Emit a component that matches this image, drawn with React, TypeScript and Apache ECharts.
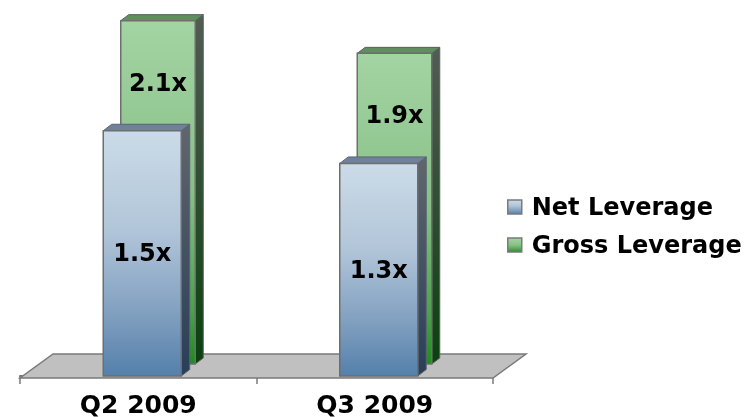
import React, { useEffect, useRef } from "react";
import * as echarts from "echarts";

const categories = ["Q2 2009", "Q3 2009"];
const netLeverage = [1.5, 1.3];
const grossLeverage = [2.1, 1.9];
const seriesNames = ["Net Leverage", "Gross Leverage"];

const FONT = '"DejaVu Sans", Verdana, sans-serif';

const grad = (stops: [number, string][]) =>
  new echarts.graphic.LinearGradient(
    0,
    0,
    0,
    1,
    stops.map(([offset, color]) => ({ offset, color }))
  );

type BarStyle = {
  shiftX: number;
  shiftY: number;
  left: number;
  width: number;
  depthX: number;
  depthY: number;
  front: () => any;
  side: () => any;
  top: string;
  stroke: string;
  labelAtTop: boolean;
};

const makeRender = (s: BarStyle) => (params: any, api: any) => {
  const cat = api.value(0);
  const val = api.value(1);
  const [cx, yTop0] = api.coord([cat, val]);
  const [, yBase0] = api.coord([cat, 0]);
  const x0 = cx + s.left + s.shiftX;
  const x1 = x0 + s.width;
  const yTop = yTop0 + s.shiftY;
  const yBase = yBase0 + s.shiftY;
  const dx = s.depthX;
  const dy = s.depthY;
  const labelY = s.labelAtTop ? yTop + 62 : (yTop + yBase) / 2;
  return {
    type: "group",
    children: [
      {
        type: "polygon",
        shape: {
          points: [
            [x1, yTop],
            [x1 + dx, yTop + dy],
            [x1 + dx, yBase + dy],
            [x1, yBase],
          ],
        },
        style: { fill: s.side(), stroke: s.stroke, lineWidth: 1 },
      },
      {
        type: "polygon",
        shape: {
          points: [
            [x0, yTop],
            [x0 + dx, yTop + dy],
            [x1 + dx, yTop + dy],
            [x1, yTop],
          ],
        },
        style: { fill: s.top, stroke: s.stroke, lineWidth: 1 },
      },
      {
        type: "rect",
        shape: { x: x0, y: yTop, width: s.width, height: yBase - yTop },
        style: { fill: s.front(), stroke: "#6e6e6e", lineWidth: 1.5 },
      },
      {
        type: "text",
        x: x0 + s.width / 2,
        y: labelY,
        style: {
          text: val.toFixed(1) + "x",
          fill: "#000",
          fontSize: 24,
          fontWeight: "bold",
          fontFamily: FONT,
          align: "center",
          verticalAlign: "middle",
        },
      },
    ],
  };
};

const netFront = () =>
  grad([
    [0, "#cbdbe8"],
    [0.4, "#b2c6d9"],
    [0.75, "#809fbf"],
    [1, "#5480ab"],
  ]);
const netSide = () =>
  grad([
    [0, "#60666d"],
    [1, "#2a3e58"],
  ]);
const grossFront = () =>
  grad([
    [0, "#a3d4a3"],
    [0.5, "#88c088"],
    [0.85, "#4c9e4c"],
    [1, "#1c8c1c"],
  ]);
const grossSide = () =>
  grad([
    [0, "#525c54"],
    [1, "#0b400f"],
  ]);

export default function App() {
  const ref = useRef<HTMLDivElement>(null);
  useEffect(() => {
    if (!ref.current) return;
    const chart = echarts.init(ref.current, undefined, { renderer: "svg" });
    chart.setOption({
      animation: false,
      grid: { left: 20, right: 256, top: 16.3, bottom: 41, containLabel: false },
      xAxis: {
        type: "category",
        data: categories,
        offset: 2,
        axisLine: { show: true, lineStyle: { color: "#737373", width: 1.8 } },
        axisTick: { show: true, length: 8, lineStyle: { color: "#7a7a7a", width: 1.5 } },
        axisLabel: {
          color: "#000",
          fontSize: 25,
          fontWeight: "bold",
          fontFamily: FONT,
          lineHeight: 20,
          margin: 16,
        },
        splitLine: { show: false },
      },
      yAxis: { type: "value", min: 0, max: 2.2, show: false },
      legend: {
        orient: "vertical",
        left: 507,
        top: 195,
        padding: 0,
        itemWidth: 14,
        itemHeight: 14,
        itemGap: 14,
        textStyle: {
          color: "#000",
          fontSize: 24,
          fontWeight: "bold",
          fontFamily: FONT,
          lineHeight: 22,
          padding: [0, 0, 0, 5],
        },
        data: [
          {
            name: seriesNames[0],
            icon: "rect",
            itemStyle: { color: netFront(), borderColor: "#7a7a7a", borderWidth: 1.5 },
          },
          {
            name: seriesNames[1],
            icon: "rect",
            itemStyle: { color: grossFront(), borderColor: "#7a7a7a", borderWidth: 1.5 },
          },
        ],
      },
      series: [
        {
          type: "custom",
          name: "floor",
          silent: true,
          data: [[0, 0]],
          encode: { x: 0, y: 1 },
          renderItem: (params: any) => {
            const cs = params.coordSys;
            const yf = cs.y + cs.height + 2;
            const dx = 33;
            const dy = -24;
            return {
              type: "polygon",
              shape: {
                points: [
                  [cs.x, yf],
                  [cs.x + cs.width, yf],
                  [cs.x + cs.width + dx, yf + dy],
                  [cs.x + dx, yf + dy],
                ],
              },
              style: { fill: "#c0c0c0", stroke: "#7a7a7a", lineWidth: 1.5 },
            };
          },
        },
        {
          type: "custom",
          name: seriesNames[1],
          data: grossLeverage.map((v, i) => [i, v]),
          encode: { x: 0, y: 1 },
          itemStyle: { color: "#88c088" },
          renderItem: makeRender({
            shiftX: 17,
            shiftY: -12,
            left: -34.5,
            width: 74.5,
            depthX: 8,
            depthY: -6,
            front: grossFront,
            side: grossSide,
            top: "#5f8f5f",
            stroke: "#566356",
            labelAtTop: true,
          }),
        },
        {
          type: "custom",
          name: seriesNames[0],
          data: netLeverage.map((v, i) => [i, v]),
          encode: { x: 0, y: 1 },
          itemStyle: { color: "#a0b8d0" },
          renderItem: makeRender({
            shiftX: 0,
            shiftY: 0,
            left: -35,
            width: 78,
            depthX: 8.5,
            depthY: -6.5,
            front: netFront,
            side: netSide,
            top: "#70829b",
            stroke: "#5b6470",
            labelAtTop: false,
          }),
        },
      ],
    });
    return () => chart.dispose();
  }, []);
  return (
    <div
      ref={ref}
      style={{ position: "fixed", left: 0, top: 0, width: 749, height: 417 }}
    />
  );
}
